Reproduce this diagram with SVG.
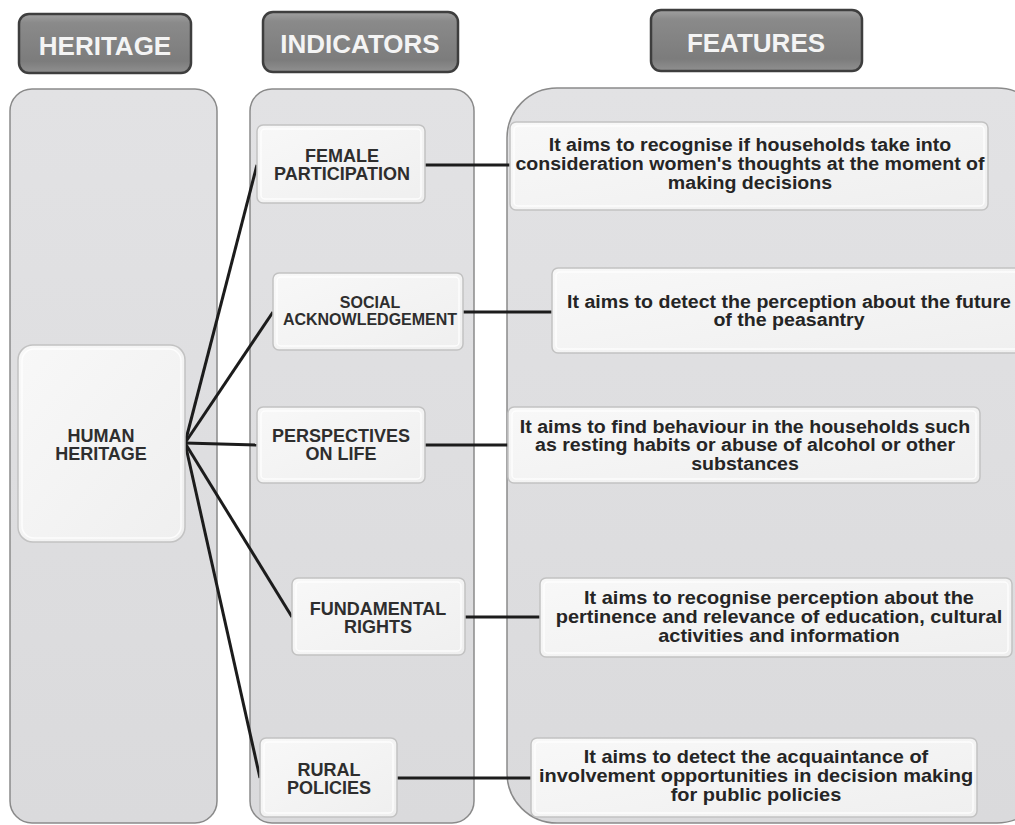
<svg xmlns="http://www.w3.org/2000/svg" width="1015" height="825" viewBox="0 0 1015 825">
<defs>
<linearGradient id="hdr" x1="0" y1="0" x2="0" y2="1">
<stop offset="0" stop-color="#a0a0a0"/>
<stop offset="0.15" stop-color="#8a8a8a"/>
<stop offset="0.8" stop-color="#7c7c7c"/>
<stop offset="1" stop-color="#909090"/>
</linearGradient>
<linearGradient id="panel" x1="0" y1="0" x2="0" y2="1">
<stop offset="0" stop-color="#e2e2e4"/>
<stop offset="1" stop-color="#dadadc"/>
</linearGradient>
<linearGradient id="box" x1="0" y1="0" x2="1" y2="1">
<stop offset="0" stop-color="#f8f8f8"/>
<stop offset="1" stop-color="#efefef"/>
</linearGradient>
</defs>
<style>
.panel{fill:url(#panel);stroke:#8a8a8a;stroke-width:1.5}
.hdr{fill:url(#hdr);stroke:#3e3e3e;stroke-width:2.5}
.hdrt{font-family:"Liberation Sans",Arial,sans-serif;font-weight:bold;font-size:26px;fill:#f4f4f4;text-anchor:middle}
.box{fill:url(#box);stroke:#c2c2c2;stroke-width:1.5}
.inner{fill:none;stroke:#ffffff;stroke-width:1.5;opacity:0.8}
.ind{font-family:"Liberation Sans",Arial,sans-serif;font-weight:bold;font-size:18px;fill:#2e2e2e;text-anchor:middle}
.feat{font-family:"Liberation Sans",Arial,sans-serif;font-weight:bold;font-size:17.5px;fill:#252525;text-anchor:middle}
.conn{stroke:#1c1c1c;stroke-width:3;fill:none}
</style>
<rect width="1015" height="825" fill="#ffffff"/>

<g id="panels">
<rect class="panel" x="10" y="89" width="207" height="734" rx="22"/>
<rect class="panel" x="250" y="89" width="224" height="734" rx="22"/>
<rect class="panel" x="507" y="88" width="540" height="735" rx="50"/>
</g>

<g id="header-heritage">
<rect class="hdr" x="19" y="14" width="172" height="59" rx="10"/>
<text class="hdrt" x="105" y="55">HERITAGE</text>
</g>
<g id="header-indicators">
<rect class="hdr" x="263" y="12" width="195" height="60" rx="10"/>
<text class="hdrt" x="360" y="53">INDICATORS</text>
</g>
<g id="header-features">
<rect class="hdr" x="651" y="10" width="211" height="61" rx="10"/>
<text class="hdrt" x="756" y="52">FEATURES</text>
</g>

<g id="connectors">
<line class="conn" x1="185" y1="443" x2="257" y2="165"/>
<line class="conn" x1="185" y1="443" x2="273" y2="312"/>
<line class="conn" x1="185" y1="443" x2="257" y2="445"/>
<line class="conn" x1="185" y1="443" x2="292" y2="617"/>
<line class="conn" x1="185" y1="443" x2="260" y2="778"/>
<line class="conn" x1="425" y1="165" x2="510" y2="165"/>
<line class="conn" x1="463" y1="312" x2="552" y2="312"/>
<line class="conn" x1="425" y1="445" x2="508" y2="445"/>
<line class="conn" x1="465" y1="617" x2="540" y2="617"/>
<line class="conn" x1="397" y1="778" x2="531" y2="778"/>
</g>

<g id="human-heritage">
<rect class="box" x="18" y="345" width="167" height="197" rx="15"/>
<rect class="inner" x="22" y="349" width="159" height="189" rx="12"/>
<text class="ind"><tspan x="101" y="442">HUMAN</tspan><tspan x="101" y="460">HERITAGE</tspan></text>
</g>

<g id="female-participation">
<rect class="box" x="257" y="125" width="168" height="78" rx="6"/>
<rect class="inner" x="261" y="129" width="160" height="70" rx="4"/>
<text class="ind"><tspan x="342" y="162">FEMALE</tspan><tspan x="342" y="180">PARTICIPATION</tspan></text>
</g>
<g id="social-acknowledgement">
<rect class="box" x="273" y="273" width="190" height="77" rx="6"/>
<rect class="inner" x="277" y="277" width="182" height="69" rx="4"/>
<text class="ind" style="font-size:16px"><tspan x="370" y="308">SOCIAL</tspan><tspan x="370" y="325">ACKNOWLEDGEMENT</tspan></text>
</g>
<g id="perspectives-on-life">
<rect class="box" x="257" y="407" width="168" height="76" rx="6"/>
<rect class="inner" x="261" y="411" width="160" height="68" rx="4"/>
<text class="ind"><tspan x="341" y="442">PERSPECTIVES</tspan><tspan x="341" y="460">ON LIFE</tspan></text>
</g>
<g id="fundamental-rights">
<rect class="box" x="292" y="578" width="173" height="77" rx="6"/>
<rect class="inner" x="296" y="582" width="165" height="69" rx="4"/>
<text class="ind"><tspan x="378" y="615">FUNDAMENTAL</tspan><tspan x="378" y="633">RIGHTS</tspan></text>
</g>
<g id="rural-policies">
<rect class="box" x="260" y="738" width="137" height="79" rx="6"/>
<rect class="inner" x="264" y="742" width="129" height="71" rx="4"/>
<text class="ind"><tspan x="329" y="776">RURAL</tspan><tspan x="329" y="794">POLICIES</tspan></text>
</g>

<g id="feature-1">
<rect class="box" x="510" y="122" width="478" height="88" rx="6"/>
<rect class="inner" x="514" y="126" width="470" height="80" rx="4"/>
<g transform="translate(750 0) scale(1.12 1)">
<text class="feat"><tspan x="0" y="151">It aims to recognise if households take into</tspan><tspan x="0" y="170">consideration women's thoughts at the moment of</tspan><tspan x="0" y="189">making decisions</tspan></text>
</g>
</g>
<g id="feature-2">
<rect class="box" x="552" y="268" width="480" height="85" rx="6"/>
<rect class="inner" x="556" y="272" width="472" height="77" rx="4"/>
<g transform="translate(789 0) scale(1.12 1)">
<text class="feat"><tspan x="0" y="308">It aims to detect the perception about the future</tspan><tspan x="0" y="326">of the peasantry</tspan></text>
</g>
</g>
<g id="feature-3">
<rect class="box" x="508" y="407" width="472" height="76" rx="6"/>
<rect class="inner" x="512" y="411" width="464" height="68" rx="4"/>
<g transform="translate(745 0) scale(1.12 1)">
<text class="feat"><tspan x="0" y="433">It aims to find behaviour in the households such</tspan><tspan x="0" y="451">as resting habits or abuse of alcohol or other</tspan><tspan x="0" y="470">substances</tspan></text>
</g>
</g>
<g id="feature-4">
<rect class="box" x="540" y="578" width="472" height="79" rx="6"/>
<rect class="inner" x="544" y="582" width="464" height="71" rx="4"/>
<g transform="translate(779 0) scale(1.14 1)">
<text class="feat"><tspan x="0" y="604">It aims to recognise perception about the</tspan><tspan x="0" y="623">pertinence and relevance of education, cultural</tspan><tspan x="0" y="642">activities and information</tspan></text>
</g>
</g>
<g id="feature-5">
<rect class="box" x="531" y="738" width="446" height="79" rx="6"/>
<rect class="inner" x="535" y="742" width="438" height="71" rx="4"/>
<g transform="translate(756 0) scale(1.14 1)">
<text class="feat"><tspan x="0" y="763">It aims to detect the acquaintance of</tspan><tspan x="0" y="782">involvement opportunities in decision making</tspan><tspan x="0" y="801">for public policies</tspan></text>
</g>
</g>
</svg>
